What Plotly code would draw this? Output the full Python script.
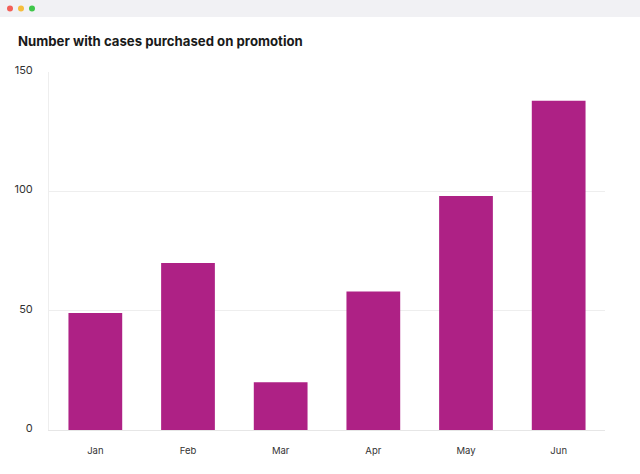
import plotly.graph_objects as go

months = ["Jan", "Feb", "Mar", "Apr", "May", "Jun"]
cases = [49, 70, 20, 58, 98, 138]
y_ticks = [0, 50, 100, 150]

W, H = 640, 474
L, R, T, B = 49, 35, 72, 44
pw, ph = W - L - R, H - T - B

def px_x(x):
    return (x - L) / pw

def px_y(y):
    return (H - B - y) / ph

fig = go.Figure(go.Bar(
    x=months, y=cases,
    marker=dict(color="#ae2185", line=dict(width=0)),
    hoverinfo="x+y",
))

shapes = []
# window top bar
shapes.append(dict(type="path", xref="paper", yref="paper",
                   path=f"M {px_x(0)},{px_y(17)} L {px_x(0)},{px_y(0)} L {px_x(640)},{px_y(0)} L {px_x(640)},{px_y(17)} Z",
                   fillcolor="#f1f1f4", line=dict(width=0), layer="below"))
for cx, col in [(10, "#f25f58"), (21, "#f5bd3c"), (32, "#3fc74a")]:
    shapes.append(dict(type="circle", xref="paper", yref="paper",
                       xsizemode="pixel", ysizemode="pixel",
                       xanchor=px_x(cx), yanchor=px_y(8.5),
                       x0=-3, x1=3, y0=-3, y1=3,
                       fillcolor=col, line=dict(width=0)))

fig.update_layout(
    width=W, height=H,
    margin=dict(l=L, r=R, t=T, b=B, pad=0),
    paper_bgcolor="white", plot_bgcolor="white",
    bargap=0.42,
    showlegend=False,
    font=dict(family="Inter, sans-serif", color="#333333"),
    title=dict(text="<b>Number with cases purchased on promotion</b>",
               font=dict(family="Inter, sans-serif", size=13.2, color="#1a1a1a"),
               x=18 / W, xanchor="left", xref="container",
               y=1 - 41 / H, yanchor="middle", yref="container"),
    shapes=shapes,
)
fig.update_xaxes(
    showgrid=False, showline=True, linecolor="#e6e6e6", linewidth=1,
    ticks="", tickfont=dict(size=9.5, color="#333333"),
    ticklabelstandoff=12,
)
fig.update_yaxes(
    range=[0, 150], tickvals=y_ticks,
    showgrid=True, gridcolor="#eeeeee", gridwidth=1,
    showline=True, linecolor="#eeeeee", linewidth=1,
    zeroline=False, ticks="",
    tickfont=dict(size=11, color="#333333"),
    ticklabelshift=-2, ticklabelstandoff=13,
)

fig.write_html("out.html", config={"displayModeBar": False},
               post_script="document.body.style.margin='0';document.body.style.padding='0';")
